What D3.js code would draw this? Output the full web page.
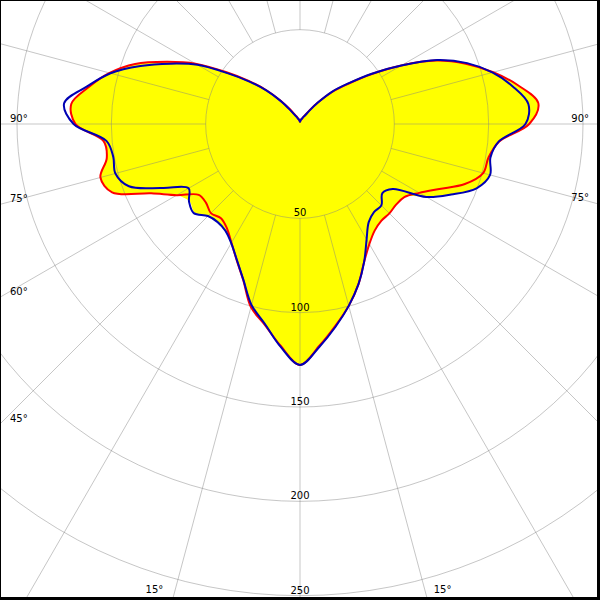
<!DOCTYPE html>
<html>
<head>
<meta charset="utf-8">
<script src="https://cdn.jsdelivr.net/npm/d3@7"></script>
<style>
  html, body { margin: 0; padding: 0; background: #fff; }
  svg { display: block; }
  text { font-family: "DejaVu Sans", sans-serif; font-size: 10px; fill: #000; }
</style>
</head>
<body>
<svg id="chart" width="600" height="600"></svg>
<script>
// gamma angles (0 = straight down, 180 = straight up), degrees
const gammaAngles = [0,5,10,15,20,25,30,35,40,45,50,55,60,65,70,75,80,85,90,95,100,105,110,115,120,125,130,135,140,145,150,155,160,165,170,175,180];

// luminous intensity (cd/klm)
const yellowRight = [127.7,118.5,109,99.8,90.5,80.5,73.5,69,67,67,66.5,67.5,77,88,99.5,104,102.5,106,121.5,126.5,117.5,106,94,80,62,46.5,33.5,24.5,15,9,5.5,4,3,2.5,2,1.5,1.2];
const yellowLeft  = [127.7,118.5,108,100.5,88,79.5,73,69,68,69,73,71.5,75.5,87,106,109.5,104,104.5,119,121.7,113.5,104.5,93,78,64,48,35.5,25.5,16.5,10,6,4.5,3.5,2.5,2,1.5,1.2];

const redRight = [127.7,118,108.5,99.8,90.5,80.5,73.5,69,67,67,66.5,67.5,73,81.5,93,100.5,101.5,106,121.5,126.8,117.5,106,93.5,79.5,62,46,33,24,15,9,5.5,4,3,2.5,2,1.5,1.2];
const redLeft  = [127.7,118,108,100.5,88,79.5,72.7,67.5,65.2,66.8,65,65.5,75.5,87,106,109.5,104,104.5,119,121.7,113.5,104.5,93,78,64,48,35.5,25.5,16.5,10,6,4.5,3.5,2.5,2,1.5,1.2];

const blueRight = [127.7,118.5,109,99.8,90.5,80.5,70.6,63.5,61,61,57,60,77.3,88.4,99.6,104.3,102.5,105.8,119.5,121.5,114.5,105.5,94.3,80.2,62,46.5,33.5,24.5,15,8.5,5,4,3,2.5,2,1.5,1.2];
const blueLeft  = [127.7,118.5,107.5,99.3,87.8,79.3,72.9,69,67.9,69,73.5,71.8,68.2,80.3,96.5,101.3,100.5,103,120,125.5,114.6,104,90,75.7,62.8,47,35,25,16,9,5.5,4,3,2.5,2,1.5,1.2];

const radiusTicks = [50,100,150,200,250];
const gridAngles = d3.range(0, 360, 15);
const leftAngleLabels = ["90°","75°","60°","45°"];
const leftAngleValues = [90,75,60,45];
const rightAngleLabels = ["90°","75°"];
const rightAngleValues = [90,75];
const bottomAngleLabels = ["15°","15°"];
const bottomAngleValues = [-15,15];

const W = 600, H = 600;
const cx = 300, cy = 124;
const plotW = 597, plotH = 597;
const svg = d3.select("#chart");

const r = d3.scaleLinear().domain([0, 150]).range([0, 283]);

svg.append("rect").attr("width", W).attr("height", H).attr("fill", "#fff");

const defs = svg.append("defs");
defs.append("clipPath").attr("id", "plotclip")
  .append("rect").attr("x", 0).attr("y", 0).attr("width", plotW).attr("height", plotH);

const g = svg.append("g").attr("clip-path", "url(#plotclip)");
const c = g.append("g").attr("transform", `translate(${cx},${cy})`);

function buildPoints(right, left) {
  const pts = [];
  gammaAngles.forEach((a, i) => pts.push({ a: Math.PI - a * Math.PI / 180, v: right[i] }));
  for (let i = gammaAngles.length - 2; i >= 1; i--) {
    pts.push({ a: Math.PI + gammaAngles[i] * Math.PI / 180, v: left[i] });
  }
  return pts;
}

const radial = d3.lineRadial()
  .angle(d => d.a)
  .radius(d => r(d.v))
  .curve(d3.curveCatmullRomClosed.alpha(0.5));

// yellow fill
c.append("path")
  .attr("d", radial(buildPoints(yellowRight, yellowLeft)))
  .attr("fill", "#ffff00")
  .attr("stroke", "none");

// grid
const grid = c.append("g").attr("stroke", "#808080").attr("stroke-opacity", 0.45).attr("fill", "none").attr("stroke-width", 1);
radiusTicks.forEach(t => grid.append("circle").attr("r", r(t)));
gridAngles.forEach(a => {
  const rad = a * Math.PI / 180;
  const r0 = r(50), r1 = r(330);
  grid.append("line")
    .attr("x1", r0 * Math.sin(rad)).attr("y1", r0 * Math.cos(rad))
    .attr("x2", r1 * Math.sin(rad)).attr("y2", r1 * Math.cos(rad));
});

// red and blue curves
c.append("path")
  .attr("d", radial(buildPoints(redRight, redLeft)))
  .attr("fill", "none").attr("stroke", "#ff0000").attr("stroke-width", 2).attr("stroke-linejoin", "round");
c.append("path")
  .attr("d", radial(buildPoints(blueRight, blueLeft)))
  .attr("fill", "none").attr("stroke", "#0000b4").attr("stroke-width", 2).attr("stroke-linejoin", "round");

// radius labels
radiusTicks.forEach(t => {
  c.append("text").attr("x", 0).attr("y", r(t) - 2).attr("text-anchor", "middle").text(String(t));
});

// angle labels on left edge
leftAngleValues.forEach((a, i) => {
  const rad = a * Math.PI / 180;
  const yEdge = cy + cx / Math.tan(rad);
  svg.append("text").attr("x", 10).attr("y", yEdge - 2.5).text(leftAngleLabels[i]);
});
rightAngleValues.forEach((a, i) => {
  const rad = a * Math.PI / 180;
  const yEdge = cy + (plotW - cx) / Math.tan(rad);
  svg.append("text").attr("x", 589).attr("y", yEdge - 2.5).attr("text-anchor", "end").text(rightAngleLabels[i]);
});
bottomAngleValues.forEach((a, i) => {
  const rad = a * Math.PI / 180;
  const xEdge = cx + (plotH - cy) * Math.tan(rad);
  svg.append("text")
    .attr("x", a < 0 ? xEdge - 10 : xEdge + 7)
    .attr("y", 593)
    .attr("text-anchor", a < 0 ? "end" : "start")
    .text(bottomAngleLabels[i]);
});

// frame
svg.append("rect").attr("x", 0).attr("y", 0).attr("width", 1).attr("height", H).attr("fill", "#000");
svg.append("rect").attr("x", 0).attr("y", 0).attr("width", W).attr("height", 1).attr("fill", "#000");
svg.append("rect").attr("x", plotW).attr("y", 0).attr("width", W - plotW).attr("height", H).attr("fill", "#000");
svg.append("rect").attr("x", 0).attr("y", plotH).attr("width", W).attr("height", H - plotH).attr("fill", "#000");
</script>
</body>
</html>
